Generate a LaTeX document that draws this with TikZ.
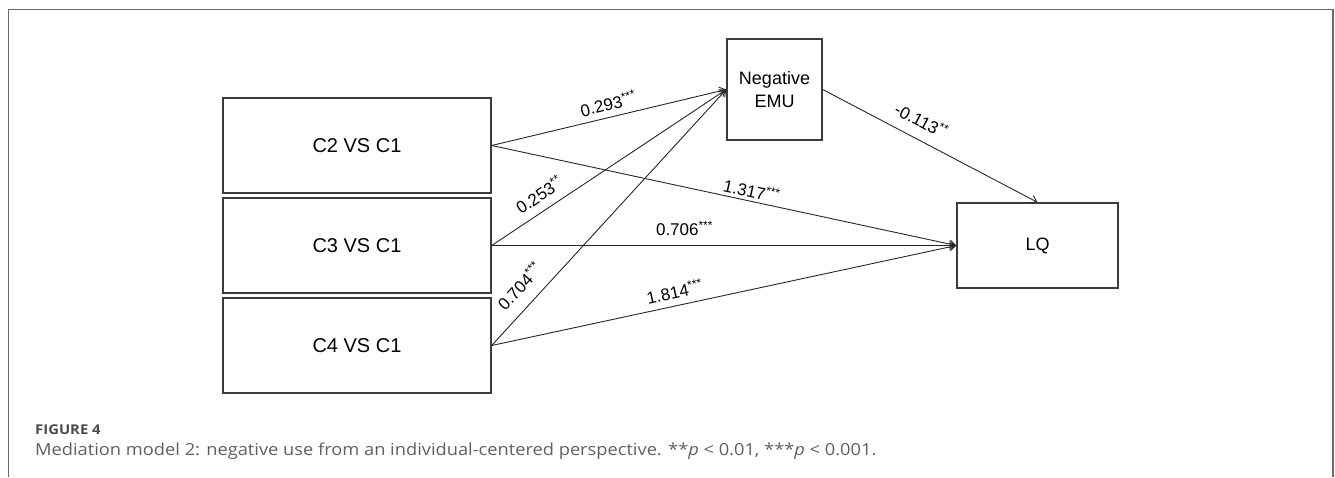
\documentclass[tikz,border=0pt]{standalone}
\usepackage{fontspec}
\usepackage{xcolor}
\usepackage{tikz}
\usetikzlibrary{
  arrows.meta,
  positioning
}
\newfontfamily\diagfont{Liberation Sans}
\newfontfamily\capfont[FakeStretch=1.1]{Open Sans}
\definecolor{framegray}{RGB}{105,105,105}
\definecolor{boxgray}{RGB}{60,60,60}
\definecolor{capdark}{RGB}{75,75,75}
\definecolor{captext}{RGB}{95,95,95}
\tikzset{
  varbox/.style={
    draw=boxgray,
    line width=1.4pt,
    minimum width=268pt,
    minimum height=95pt,
    inner sep=0pt,
    align=center,
    font=\diagfont\fontsize{20}{24}\selectfont
  },
  effect/.style={
    -{Straight Barb[length=6pt,width=8pt]},
    line width=0.9pt,
    draw=black!85
  },
  coef/.style={
    sloped,
    above=8pt,
    inner sep=0pt,
    font=\diagfont\fontsize{17}{19}\selectfont
  }
}

\begin{document}
\begin{tikzpicture}[x=1pt, y=-1pt]
  \useasboundingbox (0,0) rectangle (1335,477);
  \draw[framegray, line width=1.5pt]
    (8.5,477) -- (8.5,9.5) -- (1333,9.5) -- (1333,477);

  % groups
  \node[varbox] (c2) at (357,145.5) {C2 VS C1};
  \node[varbox, below=3.6pt of c2] (c3) {C3 VS C1};
  \node[varbox, below=3.6pt of c3] (c4) {C4 VS C1};

  % mediator and outcome
  \node[varbox, minimum width=95pt, minimum height=101pt,
    font=\diagfont\fontsize{18}{23.3}\selectfont] (emu) at (774.5,89.5)
    {Negative\\EMU};
  \node[varbox, minimum width=161pt, minimum height=85pt,
    font=\diagfont\fontsize{18}{22}\selectfont, right=464.6pt of c3] (lq) {LQ};

  \draw[effect] (c2.east) -- node[coef, pos=0.51, above=6pt] {0.293\textsuperscript{***}} (emu.west);
  \draw[effect] (c3.east) -- node[coef, pos=0.24, above=8.5pt] {0.253\textsuperscript{**}} (emu.west);
  \draw[effect] (c4.east) -- node[coef, pos=0.18, above=12pt] {0.704\textsuperscript{***}} (emu.west);
  \draw[effect] (c2.east) -- node[coef, pos=0.555, above=3pt] {1.317\textsuperscript{***}} (lq.west);
  \draw[effect] (c3.east) -- node[coef, pos=0.415, above=9pt] {0.706\textsuperscript{***}} (lq.west);
  \draw[effect] (c4.east) -- node[coef, pos=0.40, above=6.5pt] {1.814\textsuperscript{***}} (lq.west);
  \draw[effect] (emu.east) -- node[coef, pos=0.42, above=11pt] {-0.113\textsuperscript{**}} (lq.north);

  % caption
  \node[anchor=base west, inner sep=0pt, text=capdark,
    font=\capfont\bfseries\fontsize{13.5}{16}\selectfont] (fignum) at (35,434.3) {FIGURE 4};
  \node[anchor=base west, inner sep=0pt, text=captext,
    font=\capfont\fontsize{16.6}{19}\selectfont] (caption) at (35,455.7)
    {Mediation model 2: negative use from an individual-centered perspective. **\textit{p} < 0.01, ***\textit{p} < 0.001.};
\end{tikzpicture}
\end{document}
